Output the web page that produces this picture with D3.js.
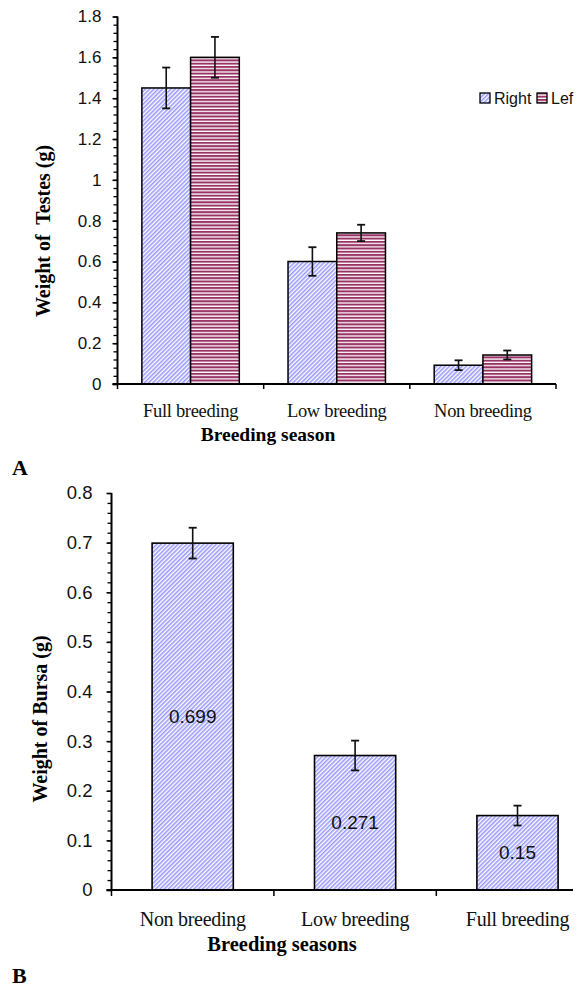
<!DOCTYPE html>
<html>
<head>
<meta charset="utf-8">
<script src="https://cdn.jsdelivr.net/npm/d3@7"></script>
<style>
  body { margin: 0; background: #fff; }
  svg { display: block; }
  .sans { font-family: "Liberation Sans", Arial, sans-serif; }
  .serif { font-family: "Liberation Serif", "Times New Roman", serif; }
</style>
</head>
<body>
<svg id="chart" width="578" height="987"></svg>
<script>
// ---- chart A data (testes) ----
const seasonsA = ["Full breeding", "Low breeding", "Non breeding"];
const seriesA = ["Right", "Lef"];
const rightVals = [1.45, 0.60, 0.092];
const rightErr = [0.10, 0.07, 0.024];
const leftVals = [1.60, 0.74, 0.142];
const leftErr = [0.10, 0.04, 0.022];
const ticksA = [0, 0.2, 0.4, 0.6, 0.8, 1, 1.2, 1.4, 1.6, 1.8];

// ---- chart B data (bursa) ----
const seasonsB = ["Non breeding", "Low breeding", "Full breeding"];
const bursaVals = [0.699, 0.271, 0.15];
const bursaErr = [0.031, 0.03, 0.02];
const ticksB = [0, 0.1, 0.2, 0.3, 0.4, 0.5, 0.6, 0.7, 0.8];

const svg = d3.select("#chart");
const defs = svg.append("defs");

// light upward diagonal (blue) and horizontal stripes (maroon)
const pDiag = defs.append("pattern")
  .attr("id", "diag").attr("patternUnits", "userSpaceOnUse")
  .attr("width", 3).attr("height", 3)
  .attr("patternTransform", "rotate(45)");
pDiag.append("rect").attr("width", 3).attr("height", 3).attr("fill", "#ffffff");
pDiag.append("rect").attr("width", 1.6).attr("height", 3).attr("fill", "#9a9aff");

const pHor = defs.append("pattern")
  .attr("id", "hstripe").attr("patternUnits", "userSpaceOnUse")
  .attr("width", 6).attr("height", 3.3);
pHor.append("rect").attr("width", 6).attr("height", 3.3).attr("fill", "#ffffff");
pHor.append("rect").attr("width", 6).attr("height", 2).attr("fill", "#993366");

const fills = { Right: "url(#diag)", Lef: "url(#hstripe)" };

function yAxis(g, y, major, minorStep, pad, fontSize) {
  const [d0, d1] = y.domain();
  const minor = d3.range(d0, d1 + 1e-9, minorStep);
  g.append("g").attr("class", "sans")
    .call(d3.axisLeft(y).tickValues(minor).tickSize(4).tickFormat(""))
    .call(s => s.select(".domain").remove())
    .call(s => s.selectAll("line").attr("stroke-width", 1.3));
  g.append("g").attr("class", "sans")
    .call(d3.axisLeft(y).tickValues(major).tickSize(5).tickPadding(pad).tickFormat(d3.format("")))
    .call(s => s.select(".domain").remove())
    .call(s => s.selectAll("line").attr("stroke-width", 1.5))
    .call(s => s.selectAll("text").attr("font-size", fontSize).attr("fill", "#111"));
  g.append("line")
    .attr("x1", 0).attr("x2", 0)
    .attr("y1", y(d0) + 1).attr("y2", y(d1))
    .attr("stroke", "#000").attr("stroke-width", 2);
}

function errBar(g, cx, y, v, e, cap) {
  g.append("line").attr("x1", cx).attr("x2", cx)
    .attr("y1", y(v + e)).attr("y2", y(v - e))
    .attr("stroke", "#111").attr("stroke-width", 1.6);
  [v + e, v - e].forEach(t => g.append("line")
    .attr("x1", cx - cap / 2).attr("x2", cx + cap / 2)
    .attr("y1", y(t)).attr("y2", y(t))
    .attr("stroke", "#111").attr("stroke-width", 1.8));
}

// ================= Chart A =================
(function () {
  const x0 = 117.5, xEnd = 556, yTop = 16.5, yBase = 384;
  const x = d3.scaleBand().domain(seasonsA).range([x0, xEnd]);
  const xs = d3.scaleBand().domain(seriesA).range([0, x.bandwidth()]).paddingOuter(0.5);
  const y = d3.scaleLinear().domain([0, 1.8]).range([yBase, yTop]);

  const g = svg.append("g");
  const rows = seasonsA.map((s, i) => ({
    season: s,
    vals: [
      { k: "Right", v: rightVals[i], e: rightErr[i] },
      { k: "Lef", v: leftVals[i], e: leftErr[i] }
    ]
  }));

  rows.forEach(r => {
    r.vals.forEach(d => {
      const bx = x(r.season) + xs(d.k);
      g.append("rect")
        .attr("x", bx).attr("y", y(d.v))
        .attr("width", xs.bandwidth()).attr("height", y(0) - y(d.v))
        .attr("fill", fills[d.k]).attr("stroke", "#000").attr("stroke-width", 1.5);
      errBar(g, bx + xs.bandwidth() / 2, y, d.v, d.e, 8);
    });
  });

  // x axis
  const ax = g.append("g").attr("transform", `translate(0,${yBase})`);
  ax.append("line").attr("x1", x0 - 5).attr("x2", xEnd).attr("stroke", "#000").attr("stroke-width", 2);
  seasonsA.concat([null]).forEach(s => {
    const tx = s ? x(s) : xEnd;
    ax.append("line").attr("x1", tx).attr("x2", tx).attr("y1", 0).attr("y2", 5)
      .attr("stroke", "#000").attr("stroke-width", 1.5);
  });
  ax.selectAll("text.cat").data(seasonsA).enter().append("text")
    .attr("class", "cat serif")
    .attr("x", d => x(d) + x.bandwidth() / 2).attr("y", 33)
    .attr("text-anchor", "middle").attr("font-size", 18.5).attr("letter-spacing", -0.3)
    .attr("fill", "#111").text(d => d);

  const yg = g.append("g").attr("transform", `translate(${x0},0)`);
  yAxis(yg, y, ticksA, 0.04, 11, 17);

  g.append("text").attr("class", "serif")
    .attr("x", 268).attr("y", 441).attr("text-anchor", "middle")
    .attr("font-size", 19.5).attr("font-weight", "bold").text("Breeding season");

  g.append("text").attr("class", "serif")
    .attr("transform", "translate(50,231) rotate(-90)")
    .attr("text-anchor", "middle").attr("font-size", 20).attr("font-weight", "bold")
    .style("white-space", "pre").text("Weight of  Testes (g)");

  // legend
  const lg = g.append("g").attr("class", "sans");
  const legX = [480, 537];
  seriesA.forEach((k, i) => {
    lg.append("rect").attr("x", legX[i]).attr("y", 93).attr("width", 10).attr("height", 10)
      .attr("fill", fills[k]).attr("stroke", "#000").attr("stroke-width", 1.3);
    lg.append("text").attr("x", legX[i] + 14).attr("y", 104)
      .attr("font-size", 16).attr("fill", "#111").text(k);
  });

  svg.append("text").attr("class", "serif").attr("x", 12).attr("y", 475)
    .attr("font-size", 22).attr("font-weight", "bold").text("A");
})();

// ================= Chart B =================
(function () {
  const x0 = 111.5, step = 162.4, yTop = 493, yBase = 890, axisEnd = 573;
  const x = d3.scaleBand().domain(seasonsB).range([x0, x0 + step * seasonsB.length]);
  const y = d3.scaleLinear().domain([0, 0.8]).range([yBase, yTop]);
  const bw = x.bandwidth() * 0.5;

  const g = svg.append("g");
  seasonsB.forEach((s, i) => {
    const bx = x(s) + x.bandwidth() * 0.25;
    g.append("rect")
      .attr("x", bx).attr("y", y(bursaVals[i]))
      .attr("width", bw).attr("height", y(0) - y(bursaVals[i]))
      .attr("fill", "url(#diag)").attr("stroke", "#000").attr("stroke-width", 1.6);
    errBar(g, bx + bw / 2, y, bursaVals[i], bursaErr[i], 8);
    g.append("text").attr("class", "sans")
      .attr("x", bx + bw / 2).attr("y", y(bursaVals[i] / 2)).attr("dy", "0.35em")
      .attr("text-anchor", "middle").attr("font-size", 19).attr("fill", "#111")
      .text(bursaVals[i]);
  });

  const ax = g.append("g").attr("transform", `translate(0,${yBase})`);
  ax.append("line").attr("x1", x0 - 5).attr("x2", axisEnd).attr("stroke", "#000").attr("stroke-width", 2);
  seasonsB.forEach(s => {
    ax.append("line").attr("x1", x(s)).attr("x2", x(s)).attr("y1", 0).attr("y2", 6)
      .attr("stroke", "#000").attr("stroke-width", 1.5);
  });
  ax.selectAll("text.cat").data(seasonsB).enter().append("text")
    .attr("class", "cat serif")
    .attr("x", d => x(d) + x.bandwidth() / 2).attr("y", 36)
    .attr("text-anchor", "middle").attr("font-size", 20).attr("letter-spacing", -0.3)
    .attr("fill", "#111").text(d => d);

  const yg = g.append("g").attr("transform", `translate(${x0},0)`);
  yAxis(yg, y, ticksB, 0.02, 14, 18.5);

  g.append("text").attr("class", "serif")
    .attr("x", 282).attr("y", 951).attr("text-anchor", "middle")
    .attr("font-size", 20.5).attr("font-weight", "bold").text("Breeding seasons");

  g.append("text").attr("class", "serif")
    .attr("transform", "translate(47,719) rotate(-90)")
    .attr("text-anchor", "middle").attr("font-size", 20).attr("font-weight", "bold")
    .text("Weight of Bursa (g)");

  svg.append("text").attr("class", "serif").attr("x", 12).attr("y", 983)
    .attr("font-size", 22).attr("font-weight", "bold").text("B");
})();
</script>
</body>
</html>
